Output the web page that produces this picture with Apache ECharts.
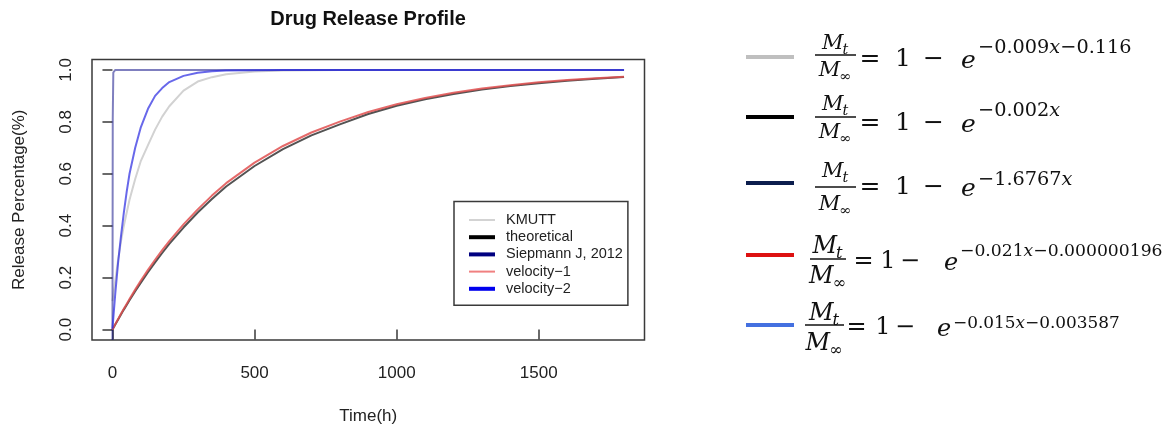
<!DOCTYPE html>
<html>
<head>
<meta charset="utf-8">
<script src="https://cdn.jsdelivr.net/npm/echarts@6/dist/echarts.min.js"></script>
<style>
  html, body { margin: 0; padding: 0; background: #fff; }
  #chart { width: 1171px; height: 430px; }
</style>
</head>
<body>
<div id="chart"></div>
<script>
// Sampling times (h) shared by the four smooth release curves
const timeH = [0, 10, 20, 30, 40, 50, 60, 80, 100, 125, 150, 175, 200, 250, 300, 350, 400,
  500, 600, 700, 800, 900, 1000, 1100, 1200, 1300, 1400, 1500, 1600, 1700, 1800];

// Fraction released at each time in timeH
const kmutt = [0.11, 0.19, 0.27, 0.34, 0.40, 0.45, 0.50, 0.58, 0.65, 0.71, 0.77, 0.82, 0.86,
  0.92, 0.955, 0.972, 0.983, 0.994, 0.998, 0.999, 1, 1, 1, 1, 1, 1, 1, 1, 1, 1, 1];
const theoretical = [0, 0.02, 0.039, 0.058, 0.077, 0.095, 0.113, 0.148, 0.181, 0.221, 0.259,
  0.295, 0.33, 0.393, 0.451, 0.503, 0.551, 0.63, 0.695, 0.748, 0.79, 0.83, 0.862, 0.887, 0.907,
  0.924, 0.938, 0.949, 0.958, 0.966, 0.973];
const velocity1 = [0, 0.021, 0.041, 0.061, 0.080, 0.099, 0.118, 0.154, 0.189, 0.230, 0.269,
  0.306, 0.341, 0.405, 0.463, 0.516, 0.564, 0.643, 0.707, 0.759, 0.801, 0.838, 0.868, 0.892,
  0.912, 0.928, 0.941, 0.952, 0.961, 0.968, 0.974];
const velocity2 = [0.004, 0.14, 0.26, 0.36, 0.45, 0.53, 0.60, 0.70, 0.78, 0.85, 0.90, 0.93,
  0.953, 0.977, 0.989, 0.995, 0.998, 0.999, 1, 1, 1, 1, 1, 1, 1, 1, 1, 1, 1, 1, 1];

// Siepmann J, 2012: near-instant release
const siepmannTime = [0, 1, 3, 10, 1800];
const siepmann = [-0.04, 0.81, 0.99, 1, 1];

const seriesNames = ['KMUTT', 'theoretical', 'Siepmann J, 2012', 'velocity\u22121', 'velocity\u22122'];

// Axis tick labels
const xTicks = [0, 500, 1000, 1500];
const yTicks = [0, 0.2, 0.4, 0.6, 0.8, 1.0];

// Exponents of the fitted models  M_t / M_inf = 1 - e^(...)
const exponents = ['\u22120.009x\u22120.116', '\u22120.002x', '\u22121.6767x',
  '\u22120.021x\u22120.000000196', '\u22120.015x\u22120.003587'];

const pairs = (xs, ys) => xs.map((x, i) => [x, ys[i]]);

const SANS = '"Liberation Sans", Arial, Helvetica, sans-serif';
const SERIF = '"DejaVu Serif", serif';

const plotStyles = [
  { color: '#d2d2d2', width: 2 },
  { color: 'rgba(40,40,40,0.8)', width: 2 },
  { color: 'rgba(0,0,128,0.5)', width: 2 },
  { color: 'rgba(225,80,80,0.85)', width: 2 },
  { color: 'rgba(40,40,225,0.7)', width: 2 }
];
const legendStyles = [
  { color: '#d3d3d3', width: 2 },
  { color: '#000000', width: 4 },
  { color: '#000080', width: 4 },
  { color: '#f08080', width: 2 },
  { color: '#0000ee', width: 4 }
];

const seriesData = [
  pairs(timeH, kmutt),
  pairs(timeH, theoretical),
  pairs(siepmannTime, siepmann),
  pairs(timeH, velocity1),
  pairs(timeH, velocity2)
];

const series = seriesNames.map((name, i) => ({
  name,
  type: 'line',
  data: seriesData[i],
  symbol: 'none',
  smooth: false,
  lineStyle: { color: plotStyles[i].color, width: plotStyles[i].width, join: 'round' },
  itemStyle: { color: legendStyles[i].color },
  emphasis: { disabled: true },
  z: 2 + i
}));

// ---- equation panel (right side) ----
const measureCtx = document.createElement('canvas').getContext('2d');
function textWidth(str, size, italic) {
  measureCtx.font = (italic ? 'italic ' : '') + size + 'px ' + SERIF;
  return measureCtx.measureText(str).width;
}

const eqRows = [
  { lineY: 57,  color: '#bfbfbf', numC: 44,  barY: 55,  denC: 71,  fracX: 815, fracW: 41, mFont: 21, mainC: 59,  eqX: 870, oneX: 903, minusX: 933.5, eX: 968.5, expX: 978, expC: 48,  mainFont: 25, expFont: 19.3 },
  { lineY: 117, color: '#000000', numC: 105, barY: 117, denC: 133, fracX: 815, fracW: 41, mFont: 21, mainC: 123, eqX: 870, oneX: 903, minusX: 933.5, eX: 968.5, expX: 978, expC: 111, mainFont: 25, expFont: 19.3 },
  { lineY: 183, color: '#0c1d4d', numC: 172, barY: 187, denC: 205, fracX: 815, fracW: 41, mFont: 21, mainC: 187, eqX: 870, oneX: 903, minusX: 933.5, eX: 968.5, expX: 978, expC: 180, mainFont: 25, expFont: 19.3 },
  { lineY: 255, color: '#dd1111', numC: 247, barY: 259, denC: 277, fracX: 810, fracW: 36, mFont: 24, mainC: 262, eqX: 863.5, oneX: 888, minusX: 910, eX: 951, expX: 960, expC: 252, mainFont: 24, expFont: 17.2 },
  { lineY: 325, color: '#4470e0', numC: 314, barY: 325, denC: 344, fracX: 805, fracW: 39, mFont: 24, mainC: 328, eqX: 856.5, oneX: 883, minusX: 905, eX: 944, expX: 953, expC: 324, mainFont: 24, expFont: 16.9 }
];

const graphics = [];
function addText(txt, x, y, size, italic, align) {
  graphics.push({
    type: 'text', x, y, silent: true,
    style: {
      text: txt, fill: '#111', fontFamily: SERIF, fontSize: size,
      fontStyle: italic ? 'italic' : 'normal',
      align: align || 'left', verticalAlign: 'middle'
    }
  });
}
function addMWithSub(sub, cx, cy, size) {
  const wM = textWidth('M', size, true);
  const subSize = size * 0.68;
  const wS = textWidth(sub, subSize, sub === 't');
  const left = cx - (wM + wS) / 2;
  addText('M', left, cy, size, true);
  addText(sub, left + wM - 1, cy + size * 0.28, subSize, sub === 't');
}

eqRows.forEach((r, i) => {
  graphics.push({
    type: 'line', silent: true,
    shape: { x1: 746, y1: r.lineY, x2: 794, y2: r.lineY },
    style: { stroke: r.color, lineWidth: 4 }
  });
  const cx = r.fracX + r.fracW / 2;
  addMWithSub('t', cx, r.numC, r.mFont);
  graphics.push({
    type: 'line', silent: true,
    shape: { x1: r.fracX, y1: r.barY, x2: r.fracX + r.fracW, y2: r.barY },
    style: { stroke: '#111', lineWidth: 1.3 }
  });
  addMWithSub('\u221e', cx, r.denC, r.mFont);
  addText('=', r.eqX, r.mainC, r.mainFont, false, 'center');
  addText('1', r.oneX, r.mainC, r.mainFont, false, 'center');
  addText('\u2212', r.minusX, r.mainC, r.mainFont, false, 'center');
  addText('e', r.eX, r.mainC + 2, r.mainFont, true, 'center');
  // exponent: numbers upright, variable italic
  const parts = exponents[i].split('x');
  const rich = { n: { fontFamily: SERIF, fontSize: r.expFont, fill: '#111' },
                 v: { fontFamily: SERIF, fontSize: r.expFont, fontStyle: 'italic', fill: '#111' } };
  const txt = parts.map(p => p ? '{n|' + p + '}' : '').join('{v|x}');
  graphics.push({
    type: 'text', x: r.expX, y: r.expC, silent: true,
    style: { text: txt, rich, align: 'left', verticalAlign: 'middle' }
  });
});

const chart = echarts.init(document.getElementById('chart'), null, { renderer: 'canvas' });
chart.setOption({
  animation: false,
  backgroundColor: '#ffffff',
  title: {
    text: 'Drug Release Profile',
    left: 368, top: 9, textAlign: 'center', padding: 0,
    textStyle: { fontFamily: SANS, fontSize: 20, fontWeight: 'bold', color: '#111' }
  },
  grid: {
    left: 92, right: 1171 - 644.5, top: 59.5, bottom: 430 - 342.2,
    show: true, borderColor: '#3a3a3a', borderWidth: 1.5, backgroundColor: 'transparent'
  },
  legend: {
    orient: 'vertical', left: 454, top: 201.5,
    padding: [11, 5, 9, 13], itemWidth: 26, itemHeight: 15, itemGap: 2.2,
    borderColor: '#3a3a3a', borderWidth: 1.5, borderRadius: 0, backgroundColor: '#fff',
    selectedMode: false,
    textStyle: { fontFamily: SANS, fontSize: 14.5, color: '#222', padding: [0, 0, 0, 6] },
    data: seriesNames.map((name, i) => ({
      name,
      itemStyle: { opacity: 0 },
      lineStyle: { color: legendStyles[i].color, width: legendStyles[i].width, opacity: 1 }
    }))
  },
  xAxis: {
    type: 'value', min: -72, max: 1872,
    name: 'Time(h)', nameLocation: 'middle', nameGap: 68,
    nameTextStyle: { fontFamily: SANS, fontSize: 17, color: '#222' },
    axisLine: { show: false },
    splitLine: { show: false },
    axisTick: { show: true, length: 10, inside: false, customValues: xTicks,
      lineStyle: { color: '#3a3a3a', width: 1.5 } },
    axisLabel: { customValues: xTicks, margin: 25, fontFamily: SANS, fontSize: 17, color: '#222',
      formatter: v => String(v) }
  },
  yAxis: {
    type: 'value', min: -0.04, max: 1.04,
    name: 'Release Percentage(%)', nameLocation: 'middle', nameGap: 64,
    nameTextStyle: { fontFamily: SANS, fontSize: 17, color: '#222' },
    axisLine: { show: false },
    splitLine: { show: false },
    axisTick: { show: true, length: 10, inside: false, customValues: yTicks,
      lineStyle: { color: '#3a3a3a', width: 1.5 } },
    axisLabel: { customValues: yTicks, rotate: 90, margin: 17, fontFamily: SANS, fontSize: 17,
      color: '#222', formatter: v => v.toFixed(1) }
  },
  series,
  graphic: graphics
});
</script>
</body>
</html>
